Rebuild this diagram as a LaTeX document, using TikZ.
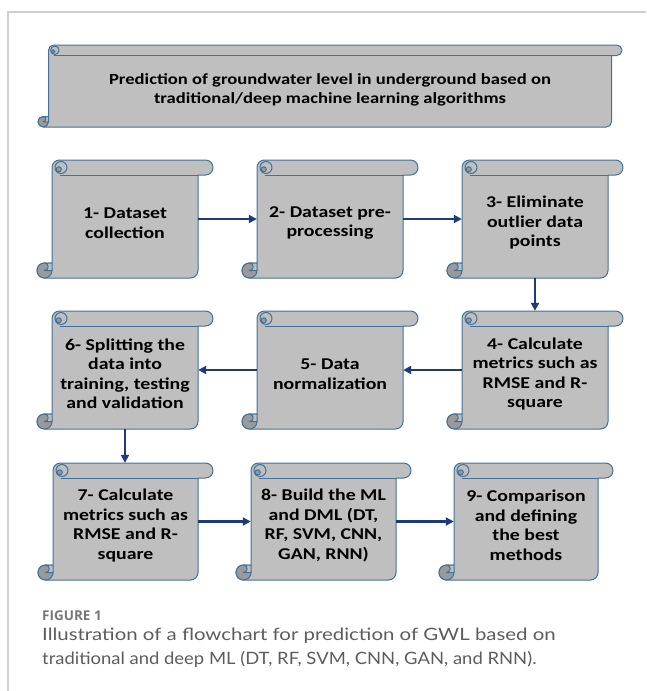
\documentclass[tikz,border=0pt]{standalone}
\usepackage{fontspec}
\setmainfont{Carlito}
\newfontfamily\boxfont[FakeStretch=1.2]{Carlito}
\newfontfamily\capfonta[FakeStretch=1.2]{Lato}
\newfontfamily\capfontb[FakeStretch=1.085]{Lato}
\newfontfamily\labfont{Open Sans}
\usetikzlibrary{arrows.meta}
\definecolor{scrollfill}{HTML}{BFBFBF}
\definecolor{scrolledge}{HTML}{41719C}
\definecolor{curlfill}{HTML}{9A9A9A}
\definecolor{arrowcol}{HTML}{1F3A78}
\definecolor{framegray}{HTML}{CFCFCF}
\definecolor{capgray}{HTML}{5C5C5C}
\definecolor{labgray}{HTML}{777777}
\tikzset{
  scrollline/.style={draw=scrolledge, line width=1pt, fill=scrollfill, line join=round},
  boxtext/.style={font=\boxfont\bfseries\fontsize{16.5}{19.5}\selectfont, text=black, yshift=-4pt},
  titletext/.style={font=\boxfont\bfseries\fontsize{15.5}{18.5}\selectfont, text=black, yshift=-4pt},
  flow/.style={draw=arrowcol, line width=2.1pt, -{Triangle[length=8pt,width=8pt]}},
  captext/.style={anchor=base west, inner sep=0pt, text=capgray},
}
% #1 name, #2 L, #3 T, #4 R, #5 B, #6 ch, #7 text style, #8 text
\newcommand{\scrollbox}[8]{%
  \pgfmathsetmacro\sL{#2}%
  \pgfmathsetmacro\sT{-(#3)}%
  \pgfmathsetmacro\sR{#4}%
  \pgfmathsetmacro\sB{-(#5)}%
  \pgfmathsetmacro\sc{#6}%
  \pgfmathsetmacro\sh{\sc/2}%
  \pgfmathsetmacro\sq{\sc/4}%
  \pgfmathsetmacro\xa{\sL+\sc}%
  \pgfmathsetmacro\xb{\sR-\sc}%
  \pgfmathsetmacro\rl{0.4*\sc}%
  \pgfmathsetmacro\rs{0.17*\sc}%
  \pgfmathsetmacro\bw{\xb-\xa}%
  \pgfmathsetmacro\bh{\sT-\sB}%
  \path[scrollline] (\xa,\sT-\sh) arc[start angle=180,end angle=90,radius=\sh pt]
     -- (\sR-\sh,\sT) arc[start angle=90,end angle=-90,radius=\sh pt]
     -- (\xb,\sT-\sc) -- (\xb,\sB+\sh) arc[start angle=0,end angle=-90,radius=\sh pt]
     -- (\sL+\sh,\sB) arc[start angle=-90,end angle=-270,radius=\sh pt]
     -- (\xa,\sB+\sc) -- cycle;
  \draw[scrolledge, line width=1pt] (\xa+\sh,\sT-\sc) -- (\xb,\sT-\sc);
  \path[scrollline] (\xa+0.6*\sc,\sT-\sh) circle[radius=\rl pt];
  \path[scrollline, fill=curlfill] (\xa+0.45*\sc,\sT-0.62*\sc) circle[radius=\rs pt];
  \path[scrollline, fill=curlfill] (\sL+\sh,\sB+\sh) circle[radius=\sh pt];
  \path[scrollline] (\sL+\sh,\sB+\sc) arc[start angle=90,end angle=-90,radius=\sq pt]
     -- (\xa,\sB+\sh) -- (\xa,\sB+\sc) -- cycle;
  \node[inner sep=0pt, minimum width=\bw pt, minimum height=\bh pt, align=center]
     (#1) at ({(\xa+\xb)/2},{(\sT+\sB)/2}) {};
  \node[inner sep=0pt, align=center, #7] (#1-text) at (#1.center) {#8};
}
\begin{document}
\begin{tikzpicture}[x=1pt,y=1pt]
\useasboundingbox (0,0) rectangle (646,-691);
\draw[framegray, line width=1.2pt] (8,-691) -- (8,-12) -- (646,-12);

\scrollbox{title}{38}{45}{622}{127}{10.5}{titletext}{Prediction of groundwater level in underground based on\\traditional/deep machine learning algorithms}

\scrollbox{s1}{37}{160}{213}{278}{15}{boxtext}{1- Dataset\\collection}
\scrollbox{s2}{242}{160}{418}{278}{15}{boxtext}{2- Dataset pre-\\processing}
\scrollbox{s3}{447}{160}{623}{278}{15}{boxtext}{3- Eliminate\\outlier data\\points}

\scrollbox{s6}{37}{311}{213}{429}{15}{boxtext}{6- Splitting the\\data into\\training, testing\\and validation}
\scrollbox{s5}{242}{311}{418}{429}{15}{boxtext}{5- Data\\normalization}
\scrollbox{s4}{447}{311}{623}{429}{15}{boxtext}{4- Calculate\\metrics such as\\RMSE and R-\\square}

\scrollbox{s7}{38}{463}{213}{580}{15}{boxtext}{7- Calculate\\metrics such as\\RMSE and R-\\square}
\scrollbox{s8}{236}{463}{411}{580}{15}{boxtext}{8- Build the ML\\and DML (DT,\\RF, SVM, CNN,\\GAN, RNN)}
\scrollbox{s9}{439}{463}{613}{580}{15}{boxtext}{9- Comparison\\and defining\\the best\\methods}

\draw[flow] (s1.east) -- (s2.west);
\draw[flow] (s2.east) -- (s3.west);
\draw[flow] (s3.south) -- (s3.south |- s4.north);
\draw[flow] (s4.west) -- (s5.east);
\draw[flow] (s5.west) -- (s6.east);
\draw[flow] (s6.south) -- (s6.south |- s7.north);
\draw[flow] (s7.east) -- (s8.west);
\draw[flow] (s8.east) -- (s9.west);

\node[anchor=base west, inner sep=0pt, font=\labfont\bfseries\fontsize{13.5}{16}\selectfont, text=labgray] (figlabel) at (42,-620) {FIGURE 1};
\node[captext, font=\capfonta\fontsize{17}{22}\selectfont] (cap1) at (42,-640) {Illustration of a flowchart for prediction of GWL based on};
\node[captext, font=\capfontb\fontsize{17}{22}\selectfont] (cap2) at (42,-664) {traditional and deep ML (DT, RF, SVM, CNN, GAN, and RNN).};
\end{tikzpicture}
\end{document}
